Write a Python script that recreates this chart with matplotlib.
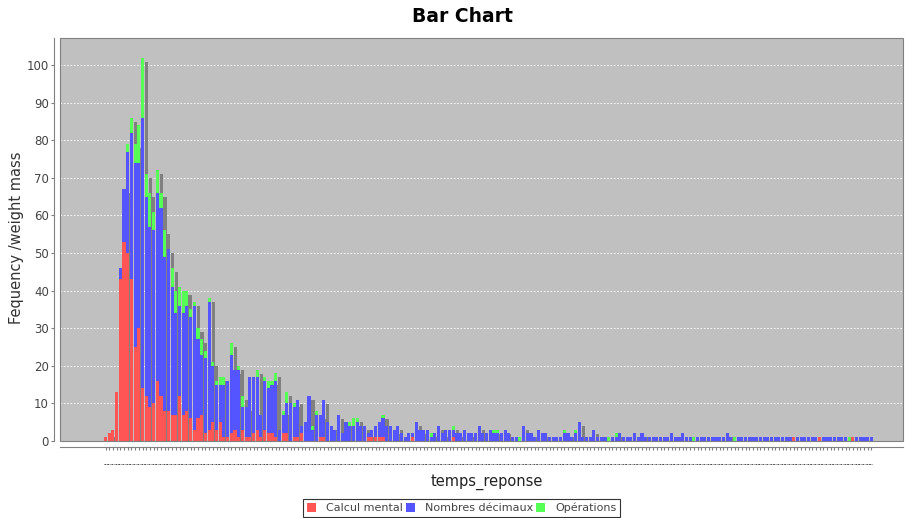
import matplotlib.pyplot as plt
from matplotlib.patches import Patch, Rectangle
import numpy as np

# series values per temps_reponse category
calcul_mental = [
    1, 2, 3, 13, 43, 53, 50, 43, 25, 30,
    14, 12, 9, 10, 16, 12, 8, 8, 7, 7,
    12, 7, 8, 6, 3, 6, 7, 2, 3, 5,
    3, 5, 1, 1, 2, 3, 1, 3, 1, 1,
    2, 3, 1, 3, 2, 2, 1, 0, 2, 2,
    0, 1, 1, 2, 0, 0, 0, 0, 1, 1,
    0, 0, 0, 0, 0, 0, 0, 0, 0, 0,
    0, 1, 1, 1, 1, 1, 0, 0, 0, 0,
    0, 0, 0, 1, 0, 0, 0, 0, 0, 0,
    0, 0, 0, 0, 1, 0, 0, 0, 0, 0,
    0, 0, 0, 0, 0, 0, 0, 0, 0, 0,
    0, 0, 0, 0, 0, 0, 0, 0, 0, 0,
    0, 0, 0, 0, 0, 0, 0, 0, 0, 0,
    0, 0, 0, 0, 0, 0, 0, 0, 0, 0,
    0, 0, 0, 0, 0, 0, 0, 0, 0, 0,
    0, 0, 0, 0, 0, 0, 0, 0, 0, 0,
    0, 0, 0, 0, 0, 0, 0, 0, 0, 0,
    0, 0, 0, 0, 0, 0, 0, 0, 0, 0,
    0, 0, 0, 0, 0, 0, 1, 0, 0, 0,
    0, 0, 0, 1, 0, 0, 0, 0, 0, 0,
    0, 0, 1, 0, 0, 0, 0, 0,
]
nombres_decimaux = [
    0, 0, 0, 0, 3, 14, 27, 39, 49, 44,
    72, 53, 48, 46, 50, 50, 41, 43, 34, 27,
    24, 27, 28, 27, 33, 21, 16, 20, 34, 15,
    12, 10, 14, 15, 21, 16, 18, 6, 8, 16,
    15, 14, 6, 13, 12, 13, 15, 3, 5, 8,
    10, 8, 10, 2, 5, 12, 3, 7, 6, 10,
    5, 4, 3, 7, 2, 5, 4, 4, 5, 4,
    4, 1, 2, 3, 4, 5, 4, 4, 3, 4,
    2, 1, 2, 1, 5, 3, 3, 3, 1, 2,
    4, 2, 3, 3, 2, 2, 2, 3, 2, 2,
    2, 4, 2, 2, 3, 2, 2, 2, 3, 2,
    1, 1, 0, 4, 2, 2, 1, 3, 2, 2,
    1, 1, 1, 1, 2, 2, 1, 2, 5, 1,
    1, 1, 3, 1, 1, 1, 0, 1, 1, 2,
    1, 1, 1, 2, 1, 2, 1, 1, 1, 1,
    1, 1, 1, 2, 1, 1, 2, 1, 1, 0,
    1, 1, 1, 1, 1, 1, 1, 1, 2, 1,
    0, 1, 1, 1, 1, 1, 1, 1, 1, 1,
    1, 1, 1, 1, 1, 1, 0, 1, 1, 1,
    1, 1, 1, 0, 1, 1, 1, 1, 1, 1,
    1, 0, 0, 1, 1, 1, 1, 1,
]
operations = [
    0, 0, 0, 0, 0, 0, 2, 4, 5, 10,
    16, 6, 9, 5, 6, 4, 7, 0, 5, 6,
    5, 6, 4, 2, 1, 3, 4, 2, 1, 1,
    1, 2, 2, 0, 3, 0, 1, 3, 0, 0,
    0, 2, 0, 1, 2, 1, 2, 0, 1, 3,
    0, 1, 0, 0, 0, 0, 1, 1, 0, 0,
    0, 0, 0, 0, 0, 0, 1, 2, 1, 0,
    0, 0, 0, 0, 0, 1, 0, 0, 0, 0,
    0, 0, 0, 0, 0, 0, 0, 0, 1, 0,
    0, 0, 0, 0, 1, 0, 0, 0, 0, 0,
    0, 0, 0, 0, 0, 1, 1, 0, 0, 0,
    0, 0, 1, 0, 0, 0, 0, 0, 0, 0,
    0, 0, 0, 0, 1, 0, 0, 1, 0, 0,
    0, 0, 0, 0, 0, 0, 1, 0, 1, 0,
    0, 0, 0, 0, 0, 0, 0, 0, 0, 0,
    0, 0, 0, 0, 0, 0, 0, 0, 0, 1,
    0, 0, 0, 0, 0, 0, 0, 0, 0, 0,
    1, 0, 0, 0, 0, 0, 0, 0, 0, 0,
    0, 0, 0, 0, 0, 0, 0, 0, 0, 0,
    0, 0, 0, 0, 0, 0, 0, 0, 0, 0,
    0, 1, 0, 0, 0, 0, 0, 0,
]
series_names = ["Calcul mental", "Nombres décimaux", "Opérations"]
series_colors = ["#ff5555", "#5555ff", "#55ff55"]
y_ticks = [0, 10, 20, 30, 40, 50, 60, 70, 80, 90, 100]

r = np.array(calcul_mental, dtype=float)
b = np.array(nombres_decimaux, dtype=float)
g = np.array(operations, dtype=float)
x = np.arange(len(r))
total = r + b + g

W, H = 905, 518
fig = plt.figure(figsize=(W / 100, H / 100), dpi=100)
ax = fig.add_axes([60 / W, (H - 441) / H, (903 - 60) / W, (441 - 38) / H])
ax.set_facecolor("#c0c0c0")

px_x = 3.7    # pixels per category
px_y = 3.76   # pixels per unit
xmin = -(105.5 - 60) / px_x
ax.set_xlim(xmin, xmin + (903 - 60) / px_x)
ax.set_ylim(0, 107.2)

# JFreeChart style drop shadow (4px right, 4px down, pegged to base)
w = 0.82
shadow = np.clip(total - 4 / px_y, 0, None)
ax.bar(x + 4 / px_x, shadow, w, color="#808080", zorder=1, linewidth=0)
ax.bar(x, r, w, color=series_colors[0], zorder=2, linewidth=0)
ax.bar(x, b, w, bottom=r, color=series_colors[1], zorder=2, linewidth=0)
ax.bar(x, g, w, bottom=r + b, color=series_colors[2], zorder=2, linewidth=0)

ax.set_axisbelow(True)
ax.yaxis.grid(True, color="white", linestyle=(0, (2, 2)), linewidth=0.6)

for s in ["top", "right"]:
    ax.spines[s].set_visible(False)
for s in ["left", "bottom"]:
    ax.spines[s].set_position(("outward", 4))
    ax.spines[s].set_color("#808080")
    ax.spines[s].set_linewidth(0.8)
ax.add_patch(Rectangle((0, 0), 1, 1, transform=ax.transAxes, fill=False,
                       edgecolor="#808080", linewidth=0.8, zorder=5, clip_on=False))

ax.set_yticks(y_ticks)
ax.tick_params(axis="y", length=2, color="#808080", labelsize=8.5,
               labelcolor="#444444", pad=2)
ax.set_xticks(x)
ax.set_xticklabels(["..."] * len(x), fontsize=3.2, color="black",
                   fontweight="bold")
ax.tick_params(axis="x", length=2, color="#808080", pad=9)

fig.text(462 / W, 1 - 17 / H, "Bar Chart", ha="center", va="center",
         fontsize=13.5, fontweight="bold", color="black")
fig.text(17 / W, 1 - 238 / H, "Fequency /weight mass", rotation=90,
         ha="center", va="center", fontsize=10.5, color="#333333")
fig.text(487 / W, 1 - 482 / H, "temps_reponse", ha="center", va="center",
         fontsize=10.5, color="#222222")

handles = [Patch(facecolor=c, edgecolor="none", label=n)
           for n, c in zip(series_names, series_colors)]
leg = fig.legend(handles=handles, loc="center",
                 bbox_to_anchor=(461.5 / W, 1 - 508 / H), ncol=3, fontsize=8,
                 frameon=True, fancybox=False, edgecolor="black",
                 handlelength=0.8, handleheight=0.8, handletextpad=0.9,
                 columnspacing=0.3, borderpad=0.3, borderaxespad=0)
leg.get_frame().set_linewidth(0.8)
for t in leg.get_texts():
    t.set_color("#444444")

fig.savefig("out.png", dpi=100)
